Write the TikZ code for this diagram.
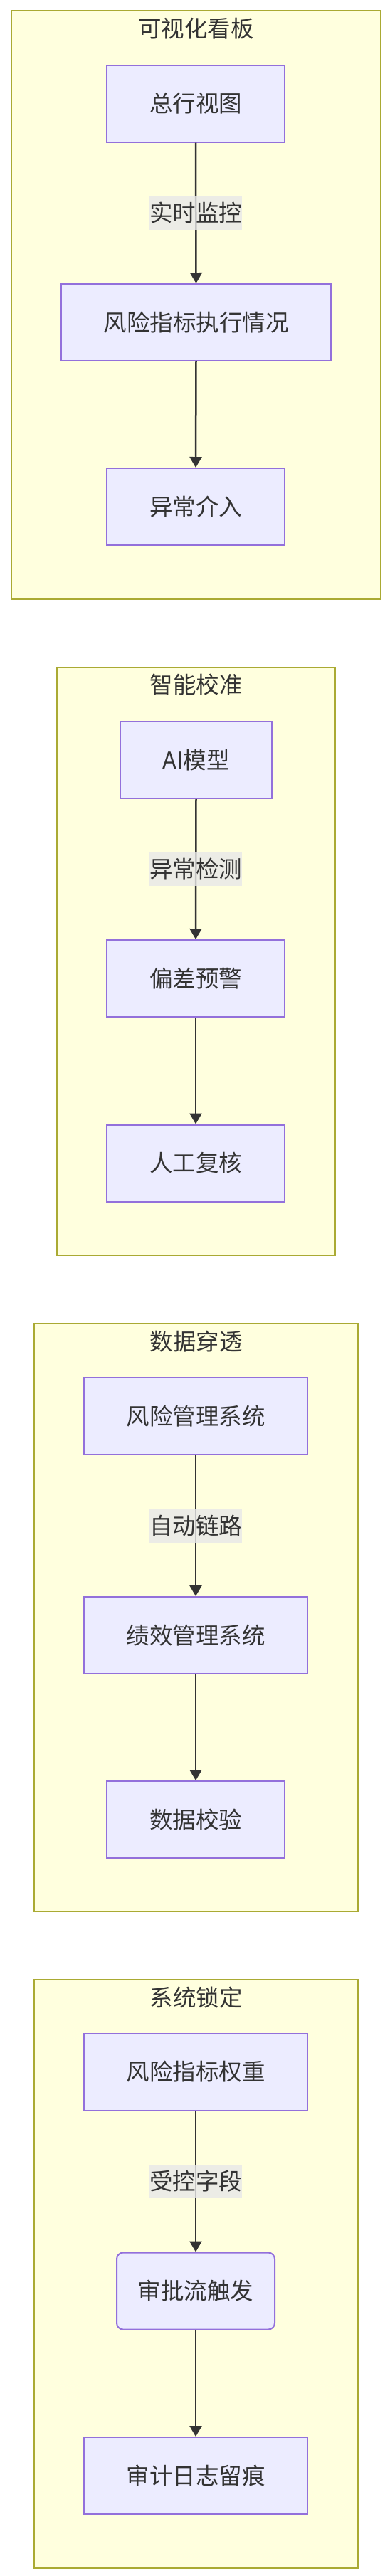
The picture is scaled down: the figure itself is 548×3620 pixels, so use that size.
\documentclass[tikz,border=0pt]{standalone}
\usepackage{fontspec}
\setmainfont{Noto Sans CJK SC}
\usetikzlibrary{arrows.meta}
\definecolor{nodefill}{HTML}{ECECFF}
\definecolor{nodedraw}{HTML}{9370DB}
\definecolor{clfill}{HTML}{FFFFDE}
\definecolor{cldraw}{HTML}{AAAA33}
\definecolor{txt}{HTML}{333333}
\definecolor{lblbg}{HTML}{E8E8E8}
\tikzset{
  cluster/.style={draw=cldraw, fill=clfill, line width=2pt},
  cltitle/.style={text=txt, font=\fontsize{32.5}{38}\selectfont, inner sep=0pt},
  procbox/.style={draw=nodedraw, fill=nodefill, line width=2pt, text=txt,
    font=\fontsize{32.5}{38}\selectfont, minimum height=108pt, inner sep=0pt},
  roundbox/.style={procbox, rounded corners=9pt},
  flow/.style={draw=txt, line width=2.5pt, -{Triangle[width=17pt,length=15pt]}},
  elabel/.style={fill=lblbg, fill opacity=0.8, text opacity=1, text=txt,
    font=\fontsize{32.5}{38}\selectfont, minimum height=47pt, inner xsep=0pt, inner ysep=0pt}
}
\begin{document}
\begin{tikzpicture}[x=1pt,y=-1pt]
\useasboundingbox (0,0) rectangle (548,3620);
\fill[white] (0,0) rectangle (548,3620);

% Cluster 1
\draw[cluster] (16,15) rectangle (535,842);
\node[cltitle] (t1) at (275.5,40) {可视化看板};
\node[procbox, minimum width=250pt] (a1) at (275,145.5) {总行视图};
\node[procbox, minimum width=379pt] (a2) at (275.5,453) {风险指标执行情况};
\node[procbox, minimum width=250pt] (a3) at (275,712) {异常介入};
\draw[flow] (a1.south) -- (a2.north) node[elabel, midway] (l1) {实时监控};
\draw[flow] (a2.south) -- (a3.north);

% Cluster 2
\draw[cluster] (80,938) rectangle (471,1764);
\node[cltitle] (t2) at (275.5,962) {智能校准};
\node[procbox, minimum width=213pt] (b1) at (275.5,1068) {AI模型};
\node[procbox, minimum width=250pt] (b2) at (275,1375) {偏差预警};
\node[procbox, minimum width=250pt] (b3) at (275,1634.5) {人工复核};
\draw[flow] (b1.south) -- (b2.north) node[elabel, midway] (l2) {异常检测};
\draw[flow] (b2.south) -- (b3.north);

% Cluster 3
\draw[cluster] (48,1860) rectangle (503,2686);
\node[cltitle] (t3) at (275.5,1885) {数据穿透};
\node[procbox, minimum width=314pt] (c1) at (275,1990) {风险管理系统};
\node[procbox, minimum width=314pt] (c2) at (275,2298) {绩效管理系统};
\node[procbox, minimum width=250pt] (c3) at (275,2557) {数据校验};
\draw[flow] (c1.south) -- (c2.north) node[elabel, midway] (l3) {自动链路};
\draw[flow] (c2.south) -- (c3.north);

% Cluster 4
\draw[cluster] (48,2782) rectangle (503,3609);
\node[cltitle] (t4) at (275.5,2807) {系统锁定};
\node[procbox, minimum width=314pt] (d1) at (275,2911.5) {风险指标权重};
\node[roundbox, minimum width=222pt] (d2) at (275,3219.5) {审批流触发};
\node[procbox, minimum width=314pt] (d3) at (275,3479) {审计日志留痕};
\draw[flow] (d1.south) -- (d2.north) node[elabel, midway] (l4) {受控字段};
\draw[flow] (d2.south) -- (d3.north);
\end{tikzpicture}
\end{document}
